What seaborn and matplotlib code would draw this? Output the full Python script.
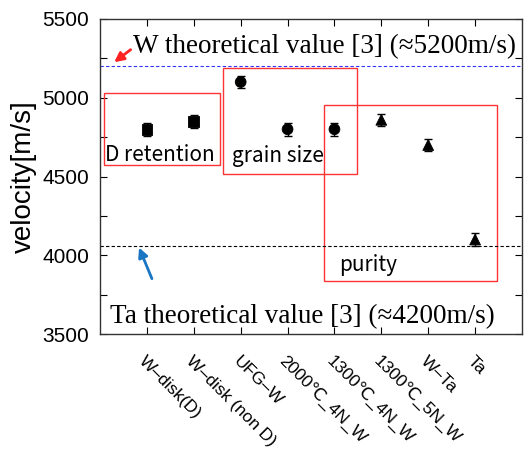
import pandas as pd
import numpy as np
import matplotlib.pyplot as plt
import seaborn as sns
from matplotlib.patches import Rectangle

samples = ['W\u2013disk(D)', 'W\u2013disk (non D)', 'UFG\u2013W', '2000\u2103_4N_W',
           '1300\u2103_4N_W', '1300\u2103_5N_W', 'W\u2013Ta', 'Ta']
velocity = [4800, 4850, 5100, 4800, 4800, 4860, 4700, 4100]
error = [40, 40, 40, 40, 40, 40, 40, 40]
group = ['D', 'D', 'grain', 'grain', 'grain', 'purity', 'purity', 'purity']

w_theory = 5200
ta_theory = 4060

df = pd.DataFrame({'sample': samples, 'velocity': velocity, 'err': error, 'group': group})

sns.set_style('ticks')
plt.rcParams['font.family'] = ['Liberation Sans', 'DejaVu Sans']
plt.rcParams['text.color'] = 'black'
plt.rcParams['xtick.color'] = 'black'
plt.rcParams['ytick.color'] = 'black'
plt.rcParams['axes.labelcolor'] = 'black'

fig = plt.figure(figsize=(5.31, 4.5), dpi=100)
ax = fig.add_axes([100 / 531, 1 - 334 / 450, 422 / 531, 315 / 450])

ax.errorbar(range(len(samples)), velocity, yerr=error, fmt='none', ecolor='black',
            elinewidth=1, capsize=3, capthick=1, zorder=2)
sns.scatterplot(data=df, x='sample', y='velocity', style='group',
                markers={'D': 's', 'grain': 'o', 'purity': '^'},
                color='black', s=60, edgecolor='black', legend=False, ax=ax, zorder=3)

ax.axhline(w_theory, color='#3333ff', ls='--', lw=0.8, dashes=(3, 2))
ax.axhline(ta_theory, color='black', ls='--', lw=0.8, dashes=(3, 2))

ax.set_xlim(-1, 8)
ax.set_ylim(3500, 5500)
ax.set_yticks([3500, 4000, 4500, 5000, 5500])
ax.set_yticks(np.arange(3500, 5501, 250), minor=True)
ax.tick_params(axis='both', which='both', direction='in', top=True, right=True,
               length=5, width=0.8)
ax.tick_params(axis='y', labelsize=15, pad=8)
ax.tick_params(axis='x', pad=14)
ax.set_xticks(range(len(samples)))
ax.set_xticklabels(samples, rotation=-45, ha='left', va='top', rotation_mode='anchor', fontsize=12.5)
ax.set_xlabel('')
ax.set_ylabel('velocity[m/s]', fontsize=20, labelpad=4)
for s in ax.spines.values():
    s.set_linewidth(1)
    s.set_color('#333333')

boxes = [(-0.915, 4570, 2.465, 462), (1.62, 4519, 2.87, 671), (3.77, 3835, 3.70, 1121)]
for x0, y0, w, h in boxes:
    ax.add_patch(Rectangle((x0, y0), w, h, fill=False, edgecolor='#ff3333', lw=1, zorder=1))

cjk = ['Noto Sans CJK JP', 'DejaVu Sans']
ax.text(-0.89, 4601, 'D retention', fontsize=15, family=cjk)
ax.text(1.81, 4595, 'grain size', fontsize=15, family=cjk)
ax.text(4.1, 3899, 'purity', fontsize=15, family=cjk)

serif = ['Liberation Serif', 'DejaVu Serif']
ax.text(-0.30, 5285, 'W theoretical value [3] (\u22485200m/s)', fontsize=19.5, family=serif)
ax.text(-0.79, 3570, 'Ta theoretical value [3] (\u22484200m/s)', fontsize=19.5, family=serif)

ax.annotate('', xy=(-0.745, 5215), xytext=(-0.30, 5316),
            arrowprops=dict(arrowstyle='-|>', color='#ff2222', lw=2, mutation_scale=14))
ax.annotate('', xy=(-0.19, 4065), xytext=(0.13, 3835),
            arrowprops=dict(arrowstyle='-|>', color='#1a75c2', lw=2, mutation_scale=14))

fig.savefig('out.png', dpi=100)
